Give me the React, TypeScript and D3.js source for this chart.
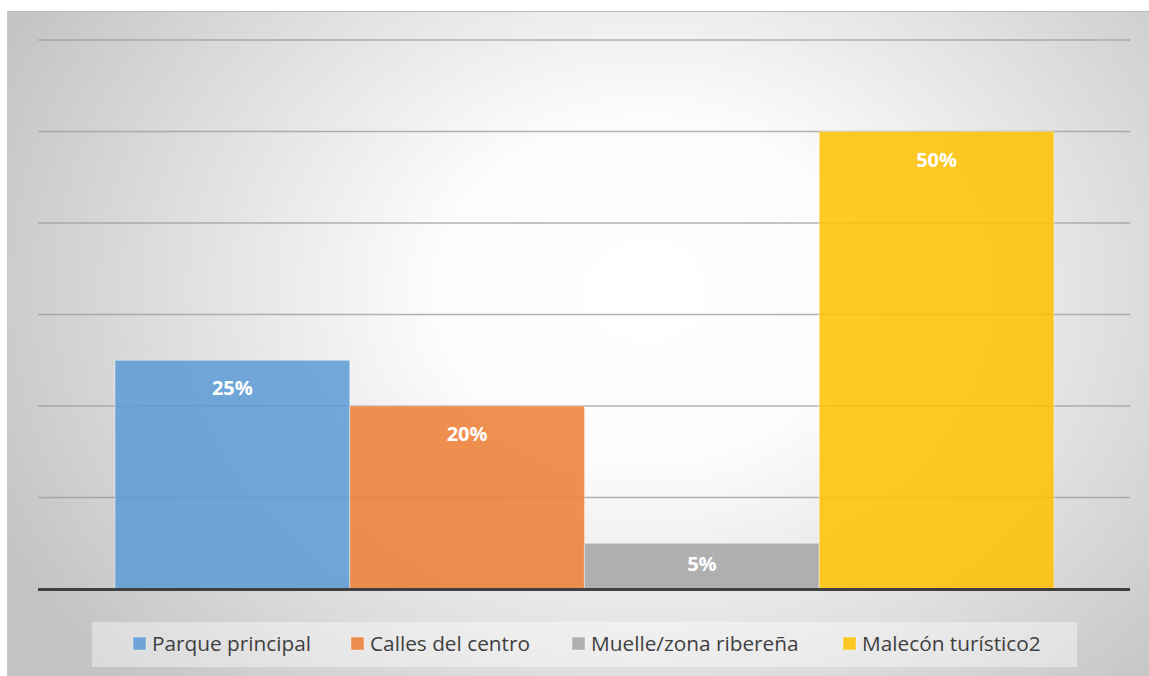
import React from "react";
import * as d3 from "d3";

const categories = ["Parque principal", "Calles del centro", "Muelle/zona ribereña", "Malecón turístico2"];
const values = [25, 20, 5, 50];
const labels = ["25%", "20%", "5%", "50%"];
const colors = ["#5b9bd5", "#ed7d31", "#a5a5a5", "#ffc000"];
const gridTicks = [10, 20, 30, 40, 50, 60];
const legendX = [133, 351, 572, 843];

export default function App() {
  const W = 1149, H = 676;
  const y = d3.scaleLinear().domain([0, 60]).range([589, 40]);
  const x = d3.scaleBand().domain(categories).range([115, 1054]).padding(0);
  const plotL = 38, plotR = 1130;
  const font = "'Open Sans', 'Liberation Sans', sans-serif";
  return (
    <svg width={W} height={H} style={{ position: "absolute", left: 0, top: 0 }}>
      <defs>
        <radialGradient id="bg" cx="0.56" cy="0.42" r="0.62" gradientUnits="objectBoundingBox"
          gradientTransform="translate(0.56,0.42) scale(1,1.4) translate(-0.56,-0.42)">
          <stop offset="0" stopColor="#ffffff" />
          <stop offset="0.3" stopColor="#fcfcfc" />
          <stop offset="1" stopColor="#c4c4c4" />
        </radialGradient>
      </defs>
      <rect x={0} y={0} width={W} height={H} fill="#ffffff" />
      <rect x={7} y={11} width={W - 7} height={H - 11} fill="url(#bg)" />
      <line x1={7} x2={W} y1={11.5} y2={11.5} stroke="#bdbdbd" strokeWidth={1} />
      <line x1={7.5} x2={7.5} y1={11} y2={H} stroke="#c8c8c8" strokeWidth={1} />
      {gridTicks.map((t) => (
        <line key={t} x1={plotL} x2={plotR} y1={y(t)} y2={y(t)} stroke="#9a9a9a" strokeOpacity={0.75} strokeWidth={1.3} />
      ))}
      {categories.map((c, i) => (
        <rect key={c} x={x(c)!} y={y(values[i])} width={x.bandwidth()} height={y(0) - y(values[i])}
          fill={colors[i]} fillOpacity={0.85} stroke="#ffffff" strokeOpacity={0.35} strokeWidth={1.2} />
      ))}
      <line x1={plotL} x2={plotR} y1={589.5} y2={589.5} stroke="#404040" strokeWidth={3} />
      {categories.map((c, i) => {
        const top = y(values[i]);
        const center = Math.min(top + 28, (top + y(0)) / 2 - 2);
        return (
          <text key={c} x={x(c)! + x.bandwidth() / 2} y={center + 7} textAnchor="middle"
            fill="#ffffff" fontFamily={font} fontWeight="bold" fontSize={20}>{labels[i]}</text>
        );
      })}
      <rect x={92} y={622} width={985} height={45} fill="#ffffff" fillOpacity={0.4} />
      {categories.map((c, i) => (
        <g key={c}>
          <rect x={legendX[i]} y={637} width={13} height={13} fill={colors[i]} fillOpacity={0.85} stroke="#ffffff" strokeOpacity={0.4} />
          <text x={legendX[i] + 19} y={651} fill="#404040" fontFamily={font} fontSize={20.8}>{c}</text>
        </g>
      ))}
    </svg>
  );
}
